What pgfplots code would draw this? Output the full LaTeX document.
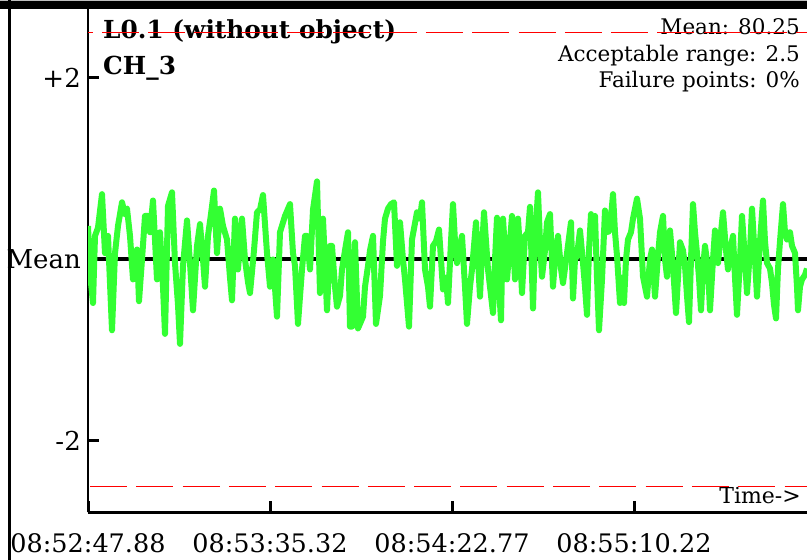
\documentclass[border=0pt]{standalone}
\usepackage{pgfplots}
\pgfplotsset{compat=1.18}
\usepackage{fontspec}
\setmainfont{DejaVu Serif}
\definecolor{sig}{RGB}{51,255,51}
\begin{document}
\begin{tikzpicture}
\useasboundingbox (0pt,0pt) rectangle (807pt,560pt);
\begin{scope}
\clip (0pt,0pt) rectangle (807pt,560pt);
\node[anchor=base west, inner sep=0pt, font=\fontsize{24.8}{28}\selectfont\bfseries] at (103pt,521pt) {L0.1 (without object)};
\node[anchor=base west, inner sep=0pt, font=\fontsize{24.8}{28}\selectfont\bfseries] at (103pt,485pt) {CH\_3};
\node[anchor=base east, inner sep=0pt, font=\fontsize{21.5}{26}\selectfont] at (800pt,525pt) {Mean: 80.25};
\node[anchor=base east, inner sep=0pt, font=\fontsize{21.5}{26}\selectfont] at (800pt,498pt) {Acceptable range: 2.5};
\node[anchor=base east, inner sep=0pt, font=\fontsize{21.5}{26}\selectfont] at (800pt,472pt) {Failure points: 0\%};
\node[anchor=base east, inner sep=0pt, font=\fontsize{22}{26}\selectfont] at (801pt,56pt) {Time->};
\begin{axis}[
  at={(88pt,47.5pt)}, anchor=south west,
  scale only axis, width=719pt, height=503.5pt,
  xmin=88, xmax=807, ymin=-2.788, ymax=2.76,
  axis x line=bottom, axis y line=left,
  axis line style={line width=2.5pt, -},
  xtick={88,270,452,634},
  xticklabels={08:52:47.88,08:53:35.32,08:54:22.77,08:55:10.22},
  ytick={-2,0,2}, yticklabels={-2,Mean,+2},
  tick align=inside, major tick length=11pt,
  major tick style={line width=3pt, black},
  /pgf/number format/assume math mode=true,
  yticklabel style={font=\fontsize{26}{30}\selectfont, anchor=east, inner sep=0pt, xshift=-7pt},
  xticklabel style={font=\fontsize{25.5}{30}\selectfont, anchor=north, inner sep=0pt, yshift=-21pt},
]
\addplot[red, line width=1.7pt, dash pattern=on 37pt off 9.3pt, dash phase=32.5pt] coordinates {(88,2.5) (807,2.5)};
\addplot[red, line width=1.7pt, dash pattern=on 37pt off 9.3pt, dash phase=44.3pt] coordinates {(88,-2.5) (807,-2.5)};
\addplot[black, line width=4pt] coordinates {(88,0) (807,0)};
\addplot[sig, line width=6pt, line join=round] table {
x y
88 0.37
89 0.10
91 -0.26
93 -0.48
95 0.26
98 0.35
102 0.72
105 0.07
108 0.26
112 -0.78
115 0.07
118 0.37
122 0.63
125 0.50
127 0.56
130 0.26
133 -0.22
137 0.11
139 -0.46
142 0.00
145 0.48
148 0.48
150 0.30
153 0.65
157 -0.22
160 0.30
163 -0.30
165 -0.82
168 0.59
172 0.74
175 -0.04
178 -0.50
180 -0.93
183 -0.07
187 0.43
190 -0.04
193 -0.56
197 0.15
200 0.39
203 0.00
205 -0.30
208 0.26
211 0.50
214 0.76
217 0.07
220 0.56
223 0.37
227 0.22
230 -0.20
232 -0.45
235 0.45
238 -0.11
242 0.45
245 0.00
248 -0.25
250 -0.37
254 0.10
257 0.52
260 0.55
263 0.71
267 0.07
270 -0.30
273 0.00
277 -0.63
280 0.30
285 0.48
290 0.61
293 0.07
295 -0.07
298 -0.71
302 -0.11
305 0.26
307 0.26
310 -0.11
313 0.55
317 0.86
320 -0.37
323 0.45
327 -0.56
330 0.15
332 0.15
335 -0.30
337 -0.52
340 -0.40
342 -0.11
345 0.10
348 0.30
350 -0.74
352 -0.74
355 0.19
358 -0.76
363 -0.63
365 -0.30
368 -0.07
370 0.10
373 0.26
376 -0.71
380 -0.40
383 0.20
385 0.45
388 0.56
391 0.61
394 0.63
397 -0.07
400 0.41
403 0.00
405 -0.22
409 -0.74
412 0.22
415 0.40
417 0.52
420 0.45
422 0.63
425 -0.11
428 -0.30
430 -0.52
433 0.15
436 0.20
439 0.33
441 0.00
443 -0.33
446 -0.20
448 -0.48
451 0.20
453 0.61
455 0.20
457 -0.04
460 0.15
462 0.26
465 -0.30
467 -0.71
470 -0.30
472 -0.11
476 0.41
478 0.00
480 -0.41
482 0.10
484 0.52
486 0.20
488 -0.11
490 -0.30
493 -0.59
495 0.00
497 0.46
499 -0.30
501 -0.67
503 0.45
505 0.10
507 -0.22
510 0.20
512 0.48
515 -0.22
518 0.45
520 0.10
522 -0.37
525 0.26
528 0.30
530 0.58
533 -0.54
535 0.22
538 0.74
540 0.20
542 -0.19
545 0.10
547 0.41
550 0.50
553 -0.30
555 0.00
558 0.26
561 -0.10
563 -0.26
567 0.07
571 0.41
573 -0.43
575 0.00
577 0.04
580 0.32
583 -0.04
585 -0.30
587 -0.61
589 0.10
591 0.50
593 0.30
595 0.48
597 -0.20
599 -0.78
602 -0.22
605 0.54
608 0.30
610 0.33
613 0.72
615 0.30
617 0.04
620 -0.48
622 -0.20
624 -0.48
626 0.00
628 0.22
631 0.30
633 0.45
637 0.67
640 0.45
643 -0.19
645 -0.30
647 -0.41
650 0.00
652 0.11
655 -0.41
658 0.04
660 0.30
663 0.48
665 0.00
667 -0.19
670 0.32
673 -0.07
676 -0.59
678 -0.20
680 0.19
683 0.10
685 -0.07
687 -0.40
689 -0.69
691 0.00
693 0.61
695 0.30
697 0.07
699 -0.20
701 -0.56
703 -0.10
705 0.15
708 -0.10
710 -0.56
713 0.00
715 0.32
718 -0.04
721 0.30
723 0.52
726 0.10
728 -0.11
731 0.15
733 0.26
735 -0.20
737 -0.61
740 0.00
742 0.48
745 0.00
747 -0.37
750 0.10
752 0.56
755 0.00
757 -0.41
760 0.20
763 0.65
765 0.20
767 -0.04
770 -0.10
772 -0.26
774 -0.50
776 -0.65
778 -0.10
780 0.20
783 0.61
785 0.30
787 0.22
790 0.30
792 0.15
795 0.07
797 -0.30
798 -0.56
800 -0.30
802 -0.22
805 -0.17
807 -0.10
};
\end{axis}
\draw[gray!50, line width=1.5pt] (0pt,559.5pt) -- (807pt,559.5pt);
\draw[black, line width=8.5pt] (0pt,554.75pt) -- (807pt,554.75pt);
\draw[black, line width=3.5pt] (9.5pt,0pt) -- (9.5pt,560pt);
\end{scope}
\end{tikzpicture}
\end{document}
